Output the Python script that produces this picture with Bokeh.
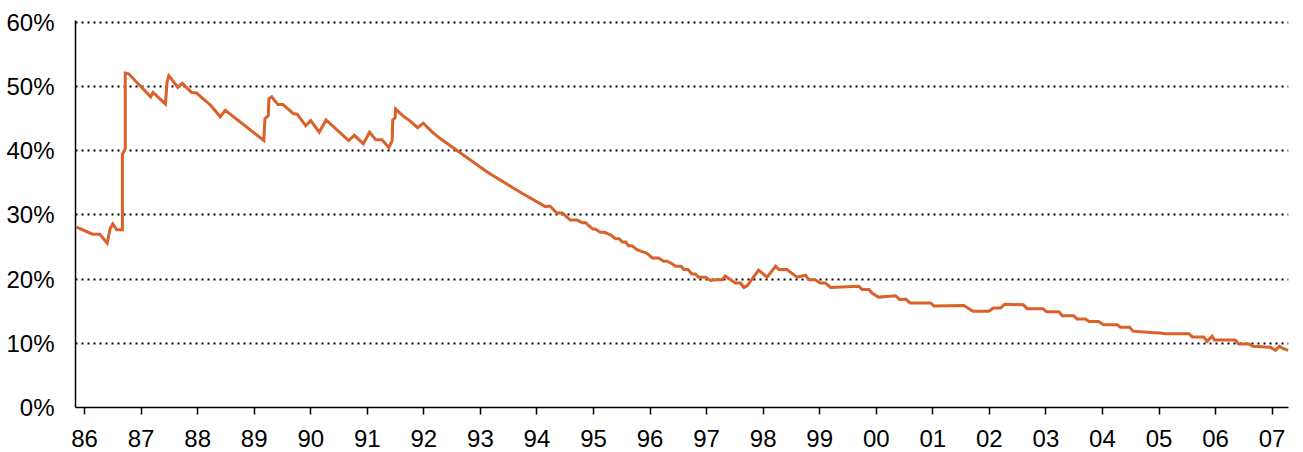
from bokeh.plotting import figure
from bokeh.models import FixedTicker, Range1d, NumeralTickFormatter
from bokeh.embed import file_html
from bokeh.resources import INLINE

# Decimal years and rate (%)
years = [
    1985.86, 1986.14, 1986.27, 1986.40, 1986.45, 1986.50, 1986.57, 1986.67, 1986.67, 1986.72,
    1986.72, 1986.78, 1987.17, 1987.21, 1987.43, 1987.46, 1987.49, 1987.65, 1987.73, 1987.89,
    1987.98, 1988.23, 1988.40, 1988.49, 1989.17, 1989.19, 1989.25, 1989.26, 1989.31, 1989.42,
    1989.51, 1989.69, 1989.76, 1989.91, 1990.00, 1990.15, 1990.27, 1990.67, 1990.77, 1990.93,
    1991.04, 1991.15, 1991.26, 1991.38, 1991.44, 1991.45, 1991.49, 1991.50, 1991.65, 1991.75,
    1991.89, 1991.99, 1992.15, 1992.29, 1993.12, 1993.75, 1994.15, 1994.23, 1994.35, 1994.45,
    1994.59, 1994.71, 1994.80, 1994.86, 1994.92, 1994.99, 1995.03, 1995.12, 1995.19, 1995.30,
    1995.39, 1995.45, 1995.51, 1995.57, 1995.62, 1995.68, 1995.77, 1995.86, 1995.95, 1996.04,
    1996.15, 1996.24, 1996.30, 1996.39, 1996.45, 1996.55, 1996.60, 1996.67, 1996.74, 1996.80,
    1996.86, 1996.98, 1997.07, 1997.16, 1997.27, 1997.33, 1997.39, 1997.51, 1997.60, 1997.66,
    1997.72, 1997.92, 1998.07, 1998.22, 1998.28, 1998.42, 1998.51, 1998.60, 1998.75, 1998.81,
    1998.92, 1999.01, 1999.10, 1999.19, 1999.69, 1999.75, 1999.87, 1999.93, 2000.04, 2000.34,
    2000.42, 2000.52, 2000.60, 2000.96, 2001.02, 2001.55, 2001.64, 2001.71, 2001.99, 2002.07,
    2002.20, 2002.27, 2002.60, 2002.67, 2002.95, 2003.01, 2003.23, 2003.29, 2003.49, 2003.55,
    2003.70, 2003.76, 2003.93, 2004.02, 2004.26, 2004.32, 2004.48, 2004.54, 2004.85, 2005.02,
    2005.10, 2005.53, 2005.59, 2005.79, 2005.85, 2005.94, 2005.98, 2006.35, 2006.41, 2006.59,
    2006.66, 2006.97, 2007.06, 2007.13, 2007.19, 2007.29,
]
rates = [
    28.1, 27.0, 27.0, 25.6, 27.8, 28.6, 27.7, 27.7, 39.5, 40.3,
    52.1, 52.0, 48.4, 49.1, 47.3, 50.7, 51.7, 49.9, 50.5, 49.1,
    49.0, 47.1, 45.3, 46.3, 41.6, 45.0, 45.5, 48.1, 48.4, 47.2,
    47.2, 45.8, 45.7, 43.9, 44.7, 42.9, 44.8, 41.6, 42.4, 41.1,
    42.9, 41.7, 41.7, 40.5, 41.6, 44.8, 45.1, 46.5, 45.3, 44.7,
    43.6, 44.3, 42.9, 41.9, 36.7, 33.3, 31.3, 31.4, 30.3, 30.3,
    29.2, 29.2, 28.8, 28.8, 28.3, 27.8, 27.8, 27.3, 27.3, 26.9,
    26.3, 26.3, 25.8, 25.8, 25.2, 25.2, 24.6, 24.3, 24.0, 23.3,
    23.3, 22.8, 22.8, 22.4, 22.0, 22.0, 21.5, 21.5, 20.8, 20.8,
    20.3, 20.3, 19.8, 19.9, 19.9, 20.5, 20.1, 19.4, 19.4, 18.7,
    19.0, 21.4, 20.3, 22.0, 21.5, 21.5, 20.9, 20.3, 20.6, 19.9,
    19.9, 19.4, 19.4, 18.7, 18.9, 18.4, 18.4, 17.8, 17.2, 17.4,
    16.8, 16.9, 16.3, 16.3, 15.8, 15.9, 15.4, 15.0, 15.0, 15.5,
    15.5, 16.1, 16.0, 15.4, 15.4, 14.9, 14.9, 14.3, 14.3, 13.8,
    13.8, 13.4, 13.4, 12.9, 12.9, 12.5, 12.5, 11.9, 11.7, 11.6,
    11.5, 11.5, 11.0, 11.0, 10.3, 11.1, 10.5, 10.5, 9.9, 9.9,
    9.55, 9.4, 8.9, 9.55, 9.2, 8.9,
]
rates_frac = [r / 100.0 for r in rates]

tick_years = list(range(1986, 2008))
tick_labels = ["86", "87", "88", "89", "90", "91", "92", "93", "94", "95", "96",
               "97", "98", "99", "00", "01", "02", "03", "04", "05", "06", "07"]
y_ticks = [0.0, 0.1, 0.2, 0.3, 0.4, 0.5, 0.6]

FONT = "Liberation Sans"

p = figure(
    frame_width=1213, frame_height=387,
    min_border_left=75, min_border_top=20, min_border_right=7, min_border_bottom=44,
    x_range=Range1d(1985.84, 2007.29), y_range=Range1d(0, 0.603),
    output_backend="svg", toolbar_location=None,
)
p.outline_line_color = None
p.background_fill_color = "white"
p.border_fill_color = "white"

p.line(years, rates_frac, line_color="#DA612A", line_width=3, line_join="miter")

# X axis
p.xaxis.ticker = FixedTicker(ticks=tick_years)
p.xaxis.major_label_overrides = {y: l for y, l in zip(tick_years, tick_labels)}
p.xaxis.major_tick_out = 7
p.xaxis.major_tick_in = 0
p.xaxis.minor_tick_line_color = None
p.xaxis.axis_line_width = 1.5
p.xaxis.major_tick_line_width = 1.5
p.xaxis.axis_line_color = "black"
p.xaxis.major_label_text_font = FONT
p.xaxis.major_label_text_font_size = "24px"
p.xaxis.major_label_text_color = "black"
p.xaxis.major_label_standoff = 15

# Y axis
p.yaxis.ticker = FixedTicker(ticks=y_ticks)
p.yaxis.formatter = NumeralTickFormatter(format="0%")
p.yaxis.major_tick_out = 0
p.yaxis.major_tick_in = 0
p.yaxis.minor_tick_line_color = None
p.yaxis.axis_line_width = 1.5
p.yaxis.axis_line_color = "black"
p.yaxis.major_label_text_font = FONT
p.yaxis.major_label_text_font_size = "24px"
p.yaxis.major_label_text_color = "black"
p.yaxis.major_label_standoff = 21

# Grid
p.xgrid.grid_line_color = None
p.ygrid.grid_line_color = "black"
p.ygrid.grid_line_dash = "2 4"
p.ygrid.grid_line_width = 2

open("out.html", "w").write(file_html(p, INLINE))
